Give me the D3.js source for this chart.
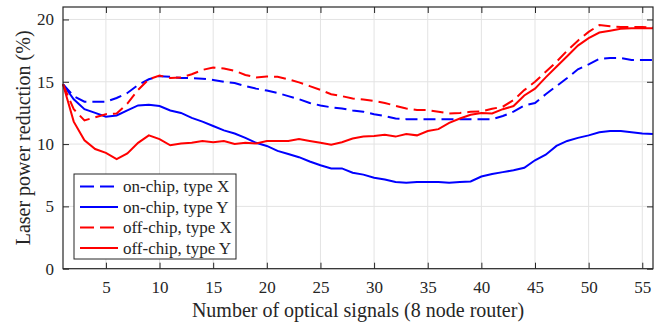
<!DOCTYPE html>
<html>
<head>
<meta charset="utf-8">
<script src="https://cdn.jsdelivr.net/npm/d3@7"></script>
<style>
    body { margin: 0; background: #fff; }
    #chart { width: 662px; height: 324px; }
</style>
</head>
<body>
<div id="chart"></div>
<script>
// number of optical signals, 1..56
var signals = d3.range(1, 57);

var onChipX = [14.8, 13.85, 13.4, 13.4, 13.4, 13.7, 14.1, 14.75, 15.2, 15.45,
    15.4, 15.3, 15.3, 15.25, 15.15, 15.0, 14.9, 14.65, 14.45, 14.3,
    14.1, 13.85, 13.6, 13.3, 13.1, 12.95, 12.85, 12.7, 12.6, 12.4,
    12.25, 12.05, 12.0, 12.0, 12.0, 12.0, 12.0, 12.0, 12.0, 12.0,
    12.0, 12.25, 12.6, 13.1, 13.3, 14.0, 14.65, 15.3, 16.0, 16.4,
    16.85, 16.9, 16.9, 16.75, 16.75, 16.75];

var onChipY = [14.8, 13.6, 12.8, 12.5, 12.2, 12.3, 12.7, 13.1, 13.15, 13.05,
    12.7, 12.5, 12.1, 11.8, 11.45, 11.1, 10.85, 10.5, 10.1, 9.85,
    9.45, 9.2, 8.95, 8.6, 8.3, 8.05, 8.05, 7.7, 7.55, 7.3,
    7.15, 6.95, 6.9, 6.95, 6.95, 6.95, 6.9, 6.95, 7.0, 7.4,
    7.6, 7.75, 7.9, 8.1, 8.7, 9.15, 9.85, 10.25, 10.5, 10.7,
    10.95, 11.05, 11.05, 10.95, 10.85, 10.8];

var offChipX = [14.8, 12.8, 11.9, 12.15, 12.4, 12.45, 13.25, 14.35, 15.2, 15.5,
    15.3, 15.35, 15.6, 15.95, 16.15, 16.07, 15.88, 15.55, 15.35, 15.42,
    15.4, 15.2, 14.95, 14.65, 14.35, 14.0, 13.85, 13.65, 13.58, 13.45,
    13.3, 13.07, 12.86, 12.73, 12.73, 12.6, 12.46, 12.5, 12.59, 12.63,
    12.83, 13.0, 13.53, 14.33, 15.0, 15.8, 16.6, 17.5, 18.3, 19.0,
    19.55, 19.45, 19.4, 19.4, 19.4, 19.35];

var offChipY = [14.8, 11.8, 10.3, 9.6, 9.3, 8.8, 9.25, 10.1, 10.7, 10.4,
    9.9, 10.05, 10.1, 10.25, 10.15, 10.25, 10.0, 10.1, 10.05, 10.25,
    10.25, 10.25, 10.4, 10.25, 10.1, 9.95, 10.15, 10.45, 10.6, 10.65,
    10.75, 10.6, 10.8, 10.7, 11.05, 11.2, 11.7, 12.05, 12.35, 12.5,
    12.45, 12.8, 13.05, 13.9, 14.45, 15.35, 16.2, 17.05, 17.9, 18.5,
    18.95, 19.1, 19.25, 19.3, 19.3, 19.3];

var seriesNames = ["on-chip, type X", "on-chip, type Y", "off-chip, type X", "off-chip, type Y"];
var seriesValues = [onChipX, onChipY, offChipX, offChipY];
var seriesColors = ["#0000ff", "#0000ff", "#ff0000", "#ff0000"];
var seriesDashed = [true, false, true, false];

var xTicks = [5, 10, 15, 20, 25, 30, 35, 40, 45, 50, 55];
var yTicks = [0, 5, 10, 15, 20];

var width = 662, height = 324;
var margin = { top: 7, right: 9, bottom: 55.3, left: 63 };
var innerW = width - margin.left - margin.right,
    innerH = height - margin.top - margin.bottom;

var font = "'Liberation Serif', 'Times New Roman', serif";
var axisColor = "#262626";

var svg = d3.select("#chart")
    .append("svg")
    .attr("width", width)
    .attr("height", height)
    .append("g")
    .attr("transform", "translate(" + margin.left + "," + margin.top + ")");

var x = d3.scaleLinear().domain([1, 56]).range([0, innerW]);
var y = d3.scaleLinear().domain([0, 21]).range([innerH, 0]);

// grid
svg.append("g")
    .selectAll("line.vgrid")
    .data(xTicks)
    .enter().append("line")
    .attr("x1", d => x(d)).attr("x2", d => x(d))
    .attr("y1", 0).attr("y2", innerH)
    .attr("stroke", "#e3e3e3")
    .attr("stroke-width", 1);

svg.append("g")
    .selectAll("line.hgrid")
    .data(yTicks)
    .enter().append("line")
    .attr("x1", 0).attr("x2", innerW)
    .attr("y1", d => y(d)).attr("y2", d => y(d))
    .attr("stroke", "#e3e3e3")
    .attr("stroke-width", 1);

// series lines
var line = d3.line()
    .x((d, i) => x(signals[i]))
    .y(d => y(d));

svg.selectAll(".series")
    .data(seriesValues)
    .enter().append("path")
    .attr("class", "series")
    .attr("d", d => line(d))
    .attr("fill", "none")
    .attr("stroke", (d, i) => seriesColors[i])
    .attr("stroke-width", 2)
    .attr("stroke-dasharray", (d, i) => seriesDashed[i] ? "12,6" : null);

// axes: ticks pointing inward, mirrored on top and right
function styleAxis(g) {
    g.select(".domain").remove();
    g.selectAll(".tick line").attr("stroke", axisColor);
    g.selectAll(".tick text")
        .attr("fill", "#262626")
        .attr("font-family", font)
        .attr("font-size", "17px");
}

svg.append("g")
    .attr("transform", "translate(0," + innerH + ")")
    .call(d3.axisBottom(x).tickValues(xTicks).tickSizeInner(-6).tickPadding(12))
    .call(styleAxis);

svg.append("g")
    .call(d3.axisTop(x).tickValues(xTicks).tickSizeInner(-6).tickFormat(""))
    .call(styleAxis);

svg.append("g")
    .call(d3.axisLeft(y).tickValues(yTicks).tickSizeInner(-6).tickPadding(9))
    .call(styleAxis);

svg.append("g")
    .attr("transform", "translate(" + innerW + ",0)")
    .call(d3.axisRight(y).tickValues(yTicks).tickSizeInner(-6).tickFormat(""))
    .call(styleAxis);

// plot box
svg.append("rect")
    .attr("x", 0).attr("y", 0)
    .attr("width", innerW).attr("height", innerH)
    .attr("fill", "none")
    .attr("stroke", axisColor)
    .attr("stroke-width", 1.2);

// axis titles
svg.append("text")
    .attr("x", innerW / 2)
    .attr("y", innerH + 48)
    .attr("text-anchor", "middle")
    .attr("fill", "#262626")
    .attr("font-family", font)
    .attr("font-size", "20px")
    .text("Number of optical signals (8 node router)");

svg.append("text")
    .attr("transform", "rotate(-90)")
    .attr("x", -innerH / 2)
    .attr("y", -margin.left + 30)
    .attr("text-anchor", "middle")
    .attr("fill", "#262626")
    .attr("font-family", font)
    .attr("font-size", "20px")
    .text("Laser power reduction (%)");

// legend
var legend = svg.append("g")
    .attr("transform", "translate(11,167)");

legend.append("rect")
    .attr("x", 0).attr("y", 0)
    .attr("width", 162).attr("height", 85)
    .attr("fill", "#fff")
    .attr("stroke", axisColor)
    .attr("stroke-width", 1);

var rows = legend.selectAll(".legend-row")
    .data(seriesNames)
    .enter().append("g")
    .attr("class", "legend-row")
    .attr("transform", (d, i) => "translate(0," + (12.5 + i * 20.5) + ")");

rows.append("line")
    .attr("x1", 6).attr("x2", 44)
    .attr("y1", 0).attr("y2", 0)
    .attr("stroke", (d, i) => seriesColors[i])
    .attr("stroke-width", 2)
    .attr("stroke-dasharray", (d, i) => seriesDashed[i] ? "14,6" : null);

rows.append("text")
    .attr("x", 49)
    .attr("y", 0)
    .attr("dy", "0.35em")
    .attr("fill", "#262626")
    .attr("font-family", font)
    .attr("font-size", "17px")
    .text(d => d);
</script>
</body>
</html>
